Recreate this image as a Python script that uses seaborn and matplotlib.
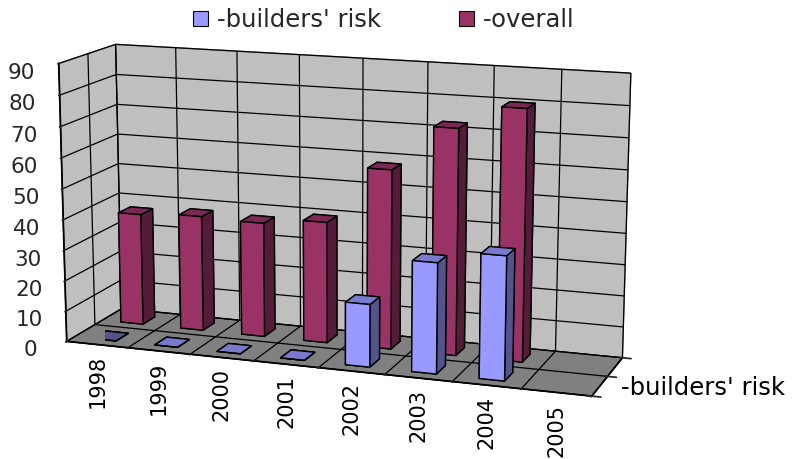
import numpy as np
import pandas as pd
import matplotlib
matplotlib.use("Agg")
import matplotlib.pyplot as plt
from matplotlib.patches import Patch
import seaborn as sns

# Chart data
years = ["1998", "1999", "2000", "2001", "2002", "2003", "2004", "2005"]
builders_risk = [0, 0, 0, 0, 20, 35, 39, np.nan]
overall = [37, 38, 37.5, 39.5, 58, 72.5, 80, np.nan]
series_names = ["-builders' risk", "-overall"]
z_ticks = list(range(0, 91, 10))

sns.set_theme(style="white")
plt.rcParams["font.family"] = ["DejaVu Sans"]
plt.rcParams["grid.color"] = "black"
plt.rcParams["grid.linewidth"] = 0.9
plt.rcParams["axes3d.automargin"] = False

df = pd.DataFrame({"year": years,
                   series_names[0]: builders_risk,
                   series_names[1]: overall})
long = df.melt(id_vars="year", var_name="series", value_name="value").dropna()

base = sns.color_palette(["#9999FF", "#993366"])
palette = dict(zip(series_names, base))


def shade(c, f):
    return tuple(min(1, v * f) for v in c)


fig = plt.figure(figsize=(8.05, 4.59), dpi=100)
ax = fig.add_axes([-0.084, 0.027, 1.0, 1.0], projection="3d")
ax.set_proj_type("persp", focal_length=0.9)
ax.view_init(elev=13, azim=-70.5)
ax.set_box_aspect((546, 132, 286), zoom=1.345)

bar_w, bar_d = 0.37, 0.45
xs, ys, dzs, cols = [], [], [], []
for _, row in long.iterrows():
    xi = years.index(row["year"])
    yi = series_names.index(row["series"])
    xs.append(xi + 0.5 - bar_w / 2)
    ys.append(yi + 0.5 - bar_d / 2)
    dzs.append(row["value"])
    c = palette[row["series"]]
    top, front, side = shade(c, 0.8), c, shade(c, 0.55)
    # face order: -Z, +Z, -Y, +Y, -X, +X
    cols.extend([side, top, front, front, side, side])

ax.bar3d(xs, ys, np.zeros(len(xs)), bar_w, bar_d, dzs, color=cols,
         shade=False, edgecolor="black", linewidth=1.0)

ax.set_xlim(0, len(years))
ax.set_ylim(0, len(series_names))
ax.set_zlim(0, 90)

ax.set_xticks(range(len(years) + 1))
ax.set_yticks(range(len(series_names) + 1))
ax.tick_params(axis="x", labelbottom=False, labeltop=False)
ax.tick_params(axis="y", labelleft=False, labelright=False)
ax.set_zticks(z_ticks)
ax.set_zticklabels([str(t) for t in z_ticks], fontsize=15.5)
ax.zaxis.set_ticks_position("lower")
ax.zaxis.set_label_position("lower")
for a in (ax.xaxis, ax.yaxis, ax.zaxis):
    a.label.set_visible(False)
    a.get_offset_text().set_visible(False)
for t in (ax.title, ax._left_title, ax._right_title):
    t.set_visible(False)

ax.xaxis.set_pane_color((0.75, 0.75, 0.75, 1))
ax.yaxis.set_pane_color((0.75, 0.75, 0.75, 1))
ax.zaxis.set_pane_color((0.5, 0.5, 0.5, 1))
for a in (ax.xaxis, ax.yaxis, ax.zaxis):
    a.pane.set_edgecolor("#808080")
    a.line.set_color("black")

# Category labels sit upright under the floor's front edge: project the
# 3D anchor points with the axes' own projection, then place 2D text.
fig.canvas.draw()
M = ax.get_proj()


def to_2d(x, y, z):
    v = M @ np.array([x, y, z, 1.0])
    return v[0] / v[3], v[1] / v[3]


for i, y in enumerate(years):
    px, py = to_2d(i + 0.5, 0, -3.5)
    ax.text2D(px, py, y, transform=ax.transData, rotation=90,
              ha="center", va="top", fontsize=15, color="black")
px, py = to_2d(len(years) + 0.3, 0.5, 0)
ax.text2D(px, py, series_names[0], transform=ax.transData, ha="left",
          va="center", fontsize=17.5, color="black")

handles = [Patch(facecolor=palette[s], edgecolor="black", linewidth=0.8, label=s)
           for s in series_names]
fig.legend(handles=handles, loc="upper center", bbox_to_anchor=(0.477, 1.03),
           ncol=2, frameon=False, fontsize=17.5, handlelength=0.6,
           handleheight=0.6, handletextpad=0.4, columnspacing=3.2)

fig.savefig("out.png", dpi=100)
